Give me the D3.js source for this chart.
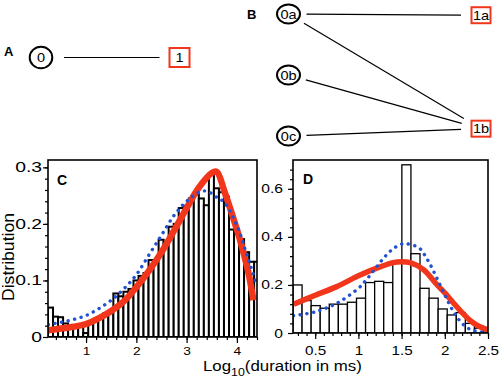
<!DOCTYPE html>
<html><head><meta charset="utf-8">
<script src="https://cdn.jsdelivr.net/npm/d3@7/dist/d3.min.js"></script>
<style>
body{margin:0;background:#fff}
svg text{font-family:"Liberation Sans",Arial,Helvetica,sans-serif;fill:#000}
</style>
</head><body>
<svg id="chart" width="500" height="380"></svg>
<script>
// ---------------- DATA ----------------
// Panel A / B state diagrams
const nodesA = [
  {id:"0", type:"open", col:0, row:0},
  {id:"1", type:"closed", col:1, row:0}
];
const linksA = [["0","1"]];
const nodesB = [
  {id:"0a", type:"open", col:0, row:0},
  {id:"0b", type:"open", col:0, row:1},
  {id:"0c", type:"open", col:0, row:2},
  {id:"1a", type:"closed", col:1, row:0.02},
  {id:"1b", type:"closed", col:1, row:1.88}
];
const linksB = [["0a","1a"],["0a","1b"],["0b","1b"],["0c","1b"]];

// Panel C histogram (log10 duration, bin start/width) and fits
const cBinStart = 0.243, cBinWidth = 0.1;
const cBars = [0.052,0.036,0.035,0.024,0.021,0.019,0.018,0.007,0.024,0.030,
               0.036,0.042,0.046,0.077,0.072,0.080,0.085,0.100,0.108,0.113,
               0.136,0.136,0.172,0.168,0.195,0.200,0.228,0.232,0.245,0.252,
               0.245,0.233,0.290,0.263,0.256,0.248,0.190,0.190,0.173,0.150,
               0.133,0.133];
const cRedX = [0.25,0.5,0.75,1,1.25,1.5,1.75,2,2.25,2.5,2.75,3,3.25,3.5,3.6,3.75,4,4.1,4.2,4.25,4.3,4.33];
const cRedY = [0.012,0.015,0.018,0.023,0.033,0.046,0.063,0.088,0.117,0.15,0.188,0.228,0.265,0.29,0.292,0.258,0.19,0.16,0.125,0.105,0.08,0.065];
const cBlueX = [0.25,0.5,0.75,1,1.25,1.5,1.75,2,2.25,2.5,2.75,3,3.25,3.4,3.6,3.75,4,4.2,4.4];
const cBlueY = [0.022,0.026,0.031,0.038,0.05,0.065,0.085,0.11,0.145,0.18,0.215,0.24,0.256,0.258,0.247,0.238,0.197,0.145,0.09];
const cXTicks = [1,2,3,4];
const cYTicks = [0,0.1,0.2,0.3];

// Panel D histogram and fits
const dBinStart = 0.243, dBinWidth = 0.105;
const dBars = [0.20,0.135,0.114,0.103,0.12,0.12,0.128,0.145,0.21,0.215,0.21,
               0.29,0.70,0.33,0.186,0.145,0.10,0.075,0.085,0.04,0.02,0.01];
const dRedX = [0.25,0.5,0.75,1,1.25,1.4,1.5,1.6,1.75,1.9,2,2.1,2.2,2.3,2.4,2.5];
const dRedY = [0.12,0.157,0.193,0.238,0.275,0.293,0.297,0.293,0.265,0.205,0.167,0.125,0.085,0.05,0.027,0.013];
const dBlueX = [0.25,0.5,0.75,1,1.1,1.2,1.3,1.4,1.5,1.55,1.6,1.7,1.8,1.9,2,2.1,2.2,2.3,2.4,2.5];
const dBlueY = [0.072,0.088,0.124,0.186,0.225,0.27,0.315,0.35,0.37,0.372,0.368,0.355,0.305,0.235,0.158,0.089,0.04,0.014,0.005,0.002];
const dXTicks = [0.5,1,1.5,2,2.5];
const dYTicks = [0,0.2,0.4,0.6];

// ---------------- DRAW ----------------
const RED = "#f2361c", BLUE = "#2152d4";
const svg = d3.select("#chart");

function stretch(sel, sx){
  sel.each(function(){
    const t = d3.select(this);
    const x = +t.attr("x") || 0;
    t.attr("transform", `translate(${x*(1-sx)},0) scale(${sx},1)`);
  });
}

// ---- Diagrams ----
function drawDiagram(nodes, links, xs, ys, ell, box, fs, trimS, trimE){
  const g = svg.append("g");
  const pos = {};
  nodes.forEach(n => pos[n.id] = [xs(n.col), ys(n.row)]);
  links.forEach(([s,t]) => {
    const [x1,y1] = pos[s], [x2,y2] = pos[t];
    const L = Math.hypot(x2-x1, y2-y1), ux=(x2-x1)/L, uy=(y2-y1)/L;
    g.append("line").attr("x1", x1+ux*trimS).attr("y1", y1+uy*trimS)
      .attr("x2", x2-ux*trimE).attr("y2", y2-uy*trimE)
      .attr("stroke","#000").attr("stroke-width",1.2);
  });
  nodes.forEach(n => {
    const [x,y] = pos[n.id];
    if(n.type==="open"){
      g.append("ellipse").attr("cx",x).attr("cy",y).attr("rx",ell[0]).attr("ry",ell[1])
        .attr("fill","#fff").attr("stroke","#000").attr("stroke-width",2);
    } else {
      g.append("rect").attr("x",x-box[0]/2).attr("y",y-box[1]/2).attr("width",box[0]).attr("height",box[1])
        .attr("fill","#fff").attr("stroke",RED).attr("stroke-width",2);
    }
    g.append("text").attr("x",x).attr("y",y).attr("dy","0.36em").attr("text-anchor","middle")
      .style("font-size",fs+"px").text(n.id).call(stretch, 1.12);
  });
}
drawDiagram(nodesA, linksA,
  d3.scaleLinear().domain([0,1]).range([41,179.5]),
  d3.scaleLinear().domain([0,1]).range([57.5,117]),
  [11.3,10.8],[20,19],13,23,20);
drawDiagram(nodesB, linksB,
  d3.scaleLinear().domain([0,1]).range([288.5,481]),
  d3.scaleLinear().domain([0,1]).range([14,75]),
  [11.5,9.5],[19,16],13,18,20);

svg.append("text").attr("x",4).attr("y",56).style("font-size","13px").style("font-weight","bold").text("A");
svg.append("text").attr("x",247).attr("y",18.5).style("font-size","13px").style("font-weight","bold").text("B");

// ---- Histogram panels ----
function panel(cfg){
  const {x, y, id, start, width, bars, redX, redY, blueX, blueY} = cfg;
  const [x0,x1] = x.range(), [y0,y1] = y.range();
  svg.append("clipPath").attr("id",id).append("rect")
    .attr("x",x0).attr("y",y1).attr("width",x1-x0).attr("height",y0-y1);
  const g = svg.append("g").attr("clip-path",`url(#${id})`);
  g.selectAll("rect.bar").data(bars).join("rect").attr("class","bar")
    .attr("x",(d,i)=>x(start+i*width))
    .attr("width",(d,i)=>x(start+(i+1)*width)-x(start+i*width))
    .attr("y",d=>y(d)).attr("height",d=>y(0)-y(d))
    .attr("fill","#fff").attr("stroke","#000").attr("stroke-width",cfg.barStroke);
  const line = d3.line().x(d=>x(d[0])).y(d=>y(d[1])).curve(d3.curveCatmullRom.alpha(0.5));
  g.append("path").attr("d", line(redX.map((v,i)=>[v,redY[i]])))
    .attr("fill","none").attr("stroke",RED).attr("stroke-width",cfg.redW).attr("stroke-linecap","butt");
  g.append("path").attr("d", line(blueX.map((v,i)=>[v,blueY[i]])))
    .attr("fill","none").attr("stroke",BLUE).attr("stroke-width",3.4)
    .attr("stroke-linecap","round").attr("stroke-dasharray","0.1 6.6");
  svg.append("rect").attr("x",x0).attr("y",y1).attr("width",x1-x0).attr("height",y0-y1)
    .attr("fill","none").attr("stroke","#000").attr("stroke-width",1.6);

  const fmt = d => d===0 ? "0" : d3.format(cfg.fmt)(d);
  const gy = svg.append("g").attr("transform",`translate(${x0},0)`);
  gy.call(d3.axisLeft(y).tickValues(cfg.yMinor).tickSize(3).tickFormat(""));
  const gy2 = svg.append("g").attr("transform",`translate(${x0},0)`);
  gy2.call(d3.axisLeft(y).tickValues(cfg.yTicks).tickSize(5).tickPadding(cfg.yPad).tickFormat(fmt));
  const gx = svg.append("g").attr("transform",`translate(0,${y0})`);
  gx.call(d3.axisBottom(x).tickValues(cfg.xMinor).tickSize(3).tickFormat(""));
  const gx2 = svg.append("g").attr("transform",`translate(0,${y0})`);
  gx2.call(d3.axisBottom(x).tickValues(cfg.xTicks).tickSize(6).tickPadding(cfg.xPad).tickFormat(d=>String(d)));
  [gy,gy2,gx,gx2].forEach(a=>{
    a.attr("font-family",null);
    a.select(".domain").remove();
    a.selectAll(".tick line").attr("stroke","#000").attr("stroke-width",1.2);
  });
  gy2.selectAll("text").style("font-size",cfg.yFs+"px").call(stretch, cfg.ySx);
  gx2.selectAll("text").style("font-size",cfg.xFs+"px").call(stretch, cfg.xSx);
  svg.append("text").attr("x",cfg.lab[0]).attr("y",cfg.lab[1]).style("font-size","14px")
    .style("font-weight","bold").text(cfg.label);
}

const cX = d3.scaleLinear().domain([0.243,4.40]).range([48,257]);
const cY = d3.scaleLinear().domain([0,0.313]).range([337,160]);
panel({x:cX, y:cY, id:"clipC", start:cBinStart, width:cBinWidth, bars:cBars,
  redX:cRedX, redY:cRedY, blueX:cBlueX, blueY:cBlueY, barStroke:2, redW:6.5,
  yTicks:cYTicks, yMinor:d3.range(0.02,0.31,0.02), xTicks:cXTicks, xMinor:d3.range(0.4,4.41,0.2),
  fmt:".1f", yPad:1, xPad:4, yFs:14, ySx:1.38, xFs:11.5, xSx:1.2, label:"C", lab:[57,185]});

const dX = d3.scaleLinear().domain([0.243,2.5]).range([293,488]);
const dY = d3.scaleLinear().domain([0,0.72]).range([333,160]);
panel({x:dX, y:dY, id:"clipD", start:dBinStart, width:dBinWidth, bars:dBars,
  redX:dRedX, redY:dRedY, blueX:dBlueX, blueY:dBlueY, barStroke:1.3, redW:5.5,
  yTicks:dYTicks, yMinor:d3.range(0.04,0.70,0.04), xTicks:dXTicks, xMinor:d3.range(0.3,2.51,0.1),
  fmt:".1f", yPad:5, xPad:7, yFs:12.5, ySx:1.25, xFs:12.5, xSx:1.22, label:"D", lab:[303,183.5]});

// Axis titles
svg.append("text").attr("transform","translate(14,257) rotate(-90)").attr("text-anchor","middle")
  .attr("textLength",88).attr("lengthAdjust","spacingAndGlyphs")
  .style("font-size","16px").text("Distribution");
const xt = svg.append("text").attr("x",203).attr("y",371.5).style("font-size","15px");
xt.append("tspan").text("Log");
xt.append("tspan").attr("dy",5).style("font-size","11px").text("10");
xt.append("tspan").attr("dy",-5).text("(duration in ms)");
const w = xt.node().getBBox().width;
stretch(xt, 159/w);
</script>
</body></html>
